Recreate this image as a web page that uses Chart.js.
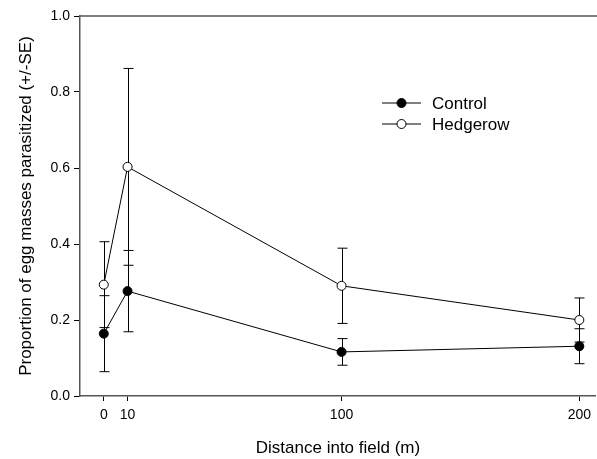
<!DOCTYPE html>
<html>
<head>
<meta charset="utf-8">
<script src="https://cdn.jsdelivr.net/npm/chart.js@4/dist/chart.umd.min.js"></script>
<style>
  html, body { margin: 0; padding: 0; background: #fff; }
</style>
</head>
<body>
<canvas id="myChart" width="597" height="459"></canvas>
<script>
// distance into field (m)
const distances = [0, 10, 100, 200];
const xTicks = [0, 10, 100, 200];
const yTicks = [0, 0.2, 0.4, 0.6, 0.8, 1.0];

// proportion parasitized and standard errors
const control = [0.164, 0.276, 0.116, 0.131];
const controlSE = [0.100, 0.107, 0.035, 0.046];
const hedgerow = [0.293, 0.603, 0.290, 0.200];
const hedgerowSE = [0.113, 0.259, 0.099, 0.058];

const axisColor = '#555';
const font = "Arial, 'Liberation Sans', sans-serif";

function toPoints(xs, ys) {
  return xs.map((x, i) => ({ x: x, y: ys[i] }));
}

const errorBars = {
  id: 'errorBars',
  beforeDatasetsDraw(chart) {
    const ctx = chart.ctx;
    const xScale = chart.scales.x;
    const yScale = chart.scales.y;
    ctx.save();
    ctx.strokeStyle = '#000';
    ctx.lineWidth = 1;
    chart.data.datasets.forEach(ds => {
      ds.data.forEach((p, i) => {
        const se = ds.se[i];
        const px = Math.round(xScale.getPixelForValue(p.x)) + 0.5;
        const top = yScale.getPixelForValue(p.y + se);
        const bottom = yScale.getPixelForValue(p.y - se);
        ctx.beginPath();
        ctx.moveTo(px, top);
        ctx.lineTo(px, bottom);
        ctx.moveTo(px - 5, top);
        ctx.lineTo(px + 5, top);
        ctx.moveTo(px - 5, bottom);
        ctx.lineTo(px + 5, bottom);
        ctx.stroke();
      });
    });
    ctx.restore();
  }
};

const frameAndLegend = {
  id: 'frameAndLegend',
  afterDraw(chart) {
    const ctx = chart.ctx;
    const area = chart.chartArea;
    ctx.save();
    // top frame line
    ctx.strokeStyle = axisColor;
    ctx.lineWidth = 1.5;
    ctx.beginPath();
    ctx.moveTo(area.left, area.top);
    ctx.lineTo(chart.width, area.top);
    ctx.stroke();

    // legend
    const lx = area.left + 302;
    let ly = area.top + 87;
    chart.data.datasets.forEach(ds => {
      ctx.strokeStyle = '#000';
      ctx.lineWidth = 1;
      ctx.beginPath();
      ctx.moveTo(lx, ly);
      ctx.lineTo(lx + 39, ly);
      ctx.stroke();
      ctx.beginPath();
      ctx.arc(lx + 19.5, ly, 4.5, 0, Math.PI * 2);
      ctx.fillStyle = ds.pointBackgroundColor;
      ctx.fill();
      ctx.stroke();
      ctx.fillStyle = '#000';
      ctx.font = '17px ' + font;
      ctx.textBaseline = 'middle';
      ctx.fillText(ds.label, lx + 50, ly + 1);
      ly += 21;
    });
    ctx.restore();
  }
};

const chart = new Chart(document.getElementById('myChart'), {
  type: 'line',
  data: {
    datasets: [
      {
        label: 'Control',
        data: toPoints(distances, control),
        se: controlSE,
        borderColor: '#000',
        borderWidth: 1,
        pointRadius: 4.5,
        pointBackgroundColor: '#000',
        pointBorderColor: '#000',
        pointBorderWidth: 1
      },
      {
        label: 'Hedgerow',
        data: toPoints(distances, hedgerow),
        se: hedgerowSE,
        borderColor: '#000',
        borderWidth: 1,
        pointRadius: 4.5,
        pointBackgroundColor: '#fff',
        pointBorderColor: '#000',
        pointBorderWidth: 1
      }
    ]
  },
  options: {
    responsive: false,
    animation: false,
    devicePixelRatio: 1,
    layout: { autoPadding: false, padding: { top: 16, right: 0, left: 0, bottom: 0 } },
    plugins: {
      legend: { display: false },
      tooltip: { enabled: false }
    },
    scales: {
      x: {
        type: 'linear',
        min: -10,
        max: 207,
        afterFit: s => { s.height = 63; },
        afterBuildTicks: s => { s.ticks = xTicks.map(v => ({ value: v })); },
        border: { color: axisColor, width: 1.5 },
        grid: { drawOnChartArea: false, color: '#000', tickLength: 5 },
        ticks: { color: '#000', font: { family: font, size: 14 }, padding: 6, maxRotation: 0 },
        title: {
          display: true,
          text: 'Distance into field (m)',
          color: '#000',
          font: { family: font, size: 17 },
          padding: { top: 0, bottom: 0 }
        }
      },
      y: {
        min: 0,
        max: 1,
        afterFit: s => { s.width = 80; },
        afterBuildTicks: s => { s.ticks = yTicks.map(v => ({ value: v })); },
        border: { color: axisColor, width: 1.5 },
        grid: { drawOnChartArea: false, color: '#000', tickLength: 6 },
        ticks: {
          color: '#000',
          font: { family: font, size: 14 },
          padding: 4,
          callback: v => v.toFixed(1)
        },
        title: {
          display: true,
          text: 'Proportion of egg masses parasitized (+/-SE)',
          color: '#000',
          font: { family: font, size: 17 },
          padding: { top: 16, bottom: 0 }
        }
      }
    }
  },
  plugins: [errorBars, frameAndLegend]
});
</script>
</body>
</html>
